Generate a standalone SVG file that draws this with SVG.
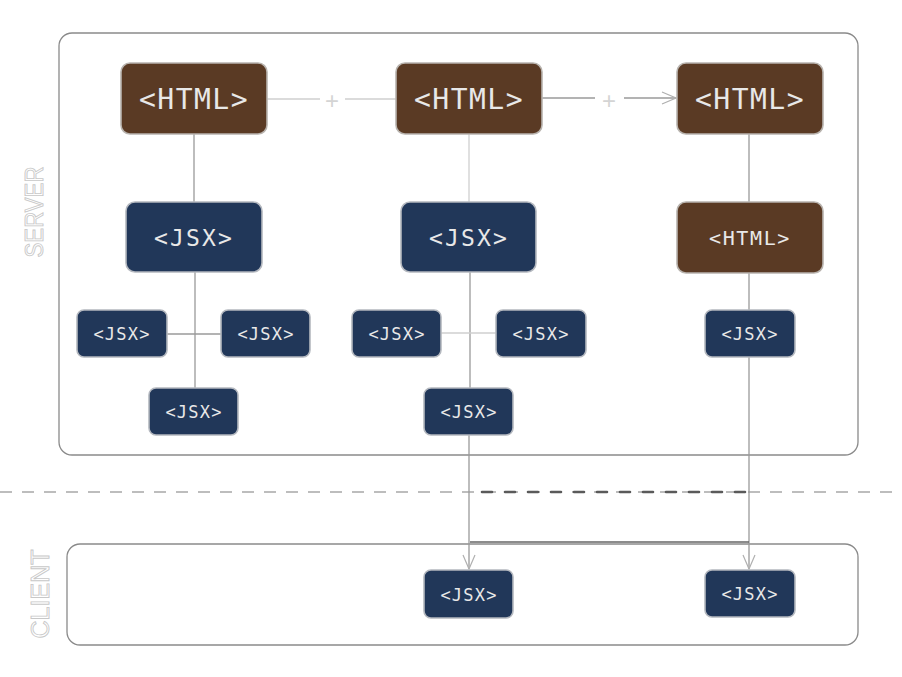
<svg xmlns="http://www.w3.org/2000/svg" width="902" height="677" viewBox="0 0 902 677">
<defs>
<style>
.html{fill:#5a3a24;stroke:#b8b3ae;stroke-width:1.6}
.jsx{fill:#213759;stroke:#b4b8bf;stroke-width:1.6}
.t{fill:#e8e8e8;font-family:"DejaVu Sans Mono","Liberation Mono",monospace;text-anchor:middle;dominant-baseline:central}
.t1{font-size:28px;letter-spacing:1.5px}
.t2{font-size:23px;letter-spacing:2.2px}
.t3{font-size:20px;letter-spacing:1.6px}
.t4{font-size:17px;letter-spacing:1.2px}
.area{fill:none;stroke:#8a8a8a;stroke-width:1.3}
.lbl{fill:#ffffff;stroke:#c8c8c8;stroke-width:0.9;font-family:"Liberation Sans Narrow","Liberation Sans",sans-serif;font-size:25px;text-anchor:middle}
.ln{fill:none;stroke:#9a9a9a;stroke-width:1.3}
.lnl{fill:none;stroke:#cfcfcf;stroke-width:1.3}
.plus{fill:#d4d4d4;font-family:"Liberation Sans",sans-serif;font-size:24px;text-anchor:middle;dominant-baseline:central}
</style>
<marker id="arr" markerWidth="16" markerHeight="14" refX="15" refY="7" orient="auto" markerUnits="userSpaceOnUse">
<path d="M1,1 L15,7 L1,13" fill="none" stroke="#b0b0b0" stroke-width="1.2"/>
</marker>
</defs>
<rect width="902" height="677" fill="#ffffff"/>

<g id="areas">
<rect id="server-area" class="area" x="59" y="33" width="799" height="422" rx="13"/>
<rect id="client-area" class="area" x="67" y="544" width="791" height="101" rx="13"/>
<text class="lbl" transform="translate(43,212) rotate(-90)" textLength="91" lengthAdjust="spacingAndGlyphs">SERVER</text>
<text class="lbl" transform="translate(49,594) rotate(-90)" textLength="89" lengthAdjust="spacingAndGlyphs">CLIENT</text>
</g>

<g id="boundary">
<line x1="0" y1="492" x2="902" y2="492" stroke="#a8a8a8" stroke-width="1.5" stroke-dasharray="12 10"/>
<line x1="482" y1="492" x2="750" y2="492" stroke="#5a5a5a" stroke-width="2.6" stroke-linecap="round" stroke-dasharray="10 13"/>
</g>

<g id="connectors">
<line class="lnl" x1="267" y1="99" x2="320" y2="99"/>
<line class="lnl" x1="345" y1="99" x2="396" y2="99"/>
<text class="plus" x="332" y="100">+</text>
<line class="ln" x1="542" y1="98" x2="595" y2="98"/>
<line class="ln" x1="624" y1="98" x2="676" y2="98" marker-end="url(#arr)"/>
<text class="plus" x="609" y="100">+</text>

<line class="ln" x1="194" y1="134" x2="194" y2="202"/>
<line class="ln" x1="195" y1="272" x2="195" y2="388"/>
<line class="ln" x1="167" y1="334" x2="221" y2="334"/>

<line class="lnl" x1="469" y1="134" x2="469" y2="202"/>
<line class="ln" x1="470" y1="272" x2="470" y2="388"/>
<line class="lnl" x1="441" y1="333" x2="496" y2="333"/>
<line class="ln" x1="469" y1="435" x2="469" y2="569" marker-end="url(#arr)"/>

<line class="ln" x1="749" y1="134" x2="749" y2="202"/>
<line class="ln" x1="749" y1="273" x2="749" y2="310"/>
<line class="ln" x1="749" y1="357" x2="749" y2="569" marker-end="url(#arr)"/>

<line x1="470" y1="542" x2="749" y2="542" stroke="#666" stroke-width="1.5"/>
</g>

<g id="html-1"><rect class="html" x="121" y="63" width="146" height="71" rx="9"/><text class="t t1" x="194" y="99">&lt;HTML&gt;</text></g>
<g id="html-2"><rect class="html" x="396" y="63" width="146" height="71" rx="9"/><text class="t t1" x="469" y="99">&lt;HTML&gt;</text></g>
<g id="html-3"><rect class="html" x="677" y="63" width="146" height="71" rx="9"/><text class="t t1" x="750" y="99">&lt;HTML&gt;</text></g>

<g id="jsx-1"><rect class="jsx" x="126" y="202" width="136" height="70" rx="9"/><text class="t t2" x="194" y="238">&lt;JSX&gt;</text></g>
<g id="jsx-2"><rect class="jsx" x="401" y="202" width="135" height="70" rx="9"/><text class="t t2" x="469" y="238">&lt;JSX&gt;</text></g>
<g id="html-4"><rect class="html" x="677" y="202" width="146" height="71" rx="9"/><text class="t t3" x="750" y="238">&lt;HTML&gt;</text></g>

<g id="jsx-1a"><rect class="jsx" x="77" y="310" width="90" height="47" rx="7"/><text class="t t4" x="122" y="334">&lt;JSX&gt;</text></g>
<g id="jsx-1b"><rect class="jsx" x="221" y="310" width="89" height="47" rx="7"/><text class="t t4" x="266" y="334">&lt;JSX&gt;</text></g>
<g id="jsx-1c"><rect class="jsx" x="149" y="388" width="89" height="47" rx="7"/><text class="t t4" x="194" y="412">&lt;JSX&gt;</text></g>

<g id="jsx-2a"><rect class="jsx" x="352" y="310" width="89" height="47" rx="7"/><text class="t t4" x="397" y="334">&lt;JSX&gt;</text></g>
<g id="jsx-2b"><rect class="jsx" x="496" y="310" width="90" height="47" rx="7"/><text class="t t4" x="541" y="334">&lt;JSX&gt;</text></g>
<g id="jsx-2c"><rect class="jsx" x="424" y="388" width="89" height="47" rx="7"/><text class="t t4" x="469" y="412">&lt;JSX&gt;</text></g>

<g id="jsx-3a"><rect class="jsx" x="705" y="310" width="90" height="47" rx="7"/><text class="t t4" x="750" y="334">&lt;JSX&gt;</text></g>

<g id="client-jsx-1"><rect class="jsx" x="424" y="570" width="89" height="48" rx="7"/><text class="t t4" x="469" y="595">&lt;JSX&gt;</text></g>
<g id="client-jsx-2"><rect class="jsx" x="705" y="570" width="90" height="47" rx="7"/><text class="t t4" x="750" y="594">&lt;JSX&gt;</text></g>
</svg>
